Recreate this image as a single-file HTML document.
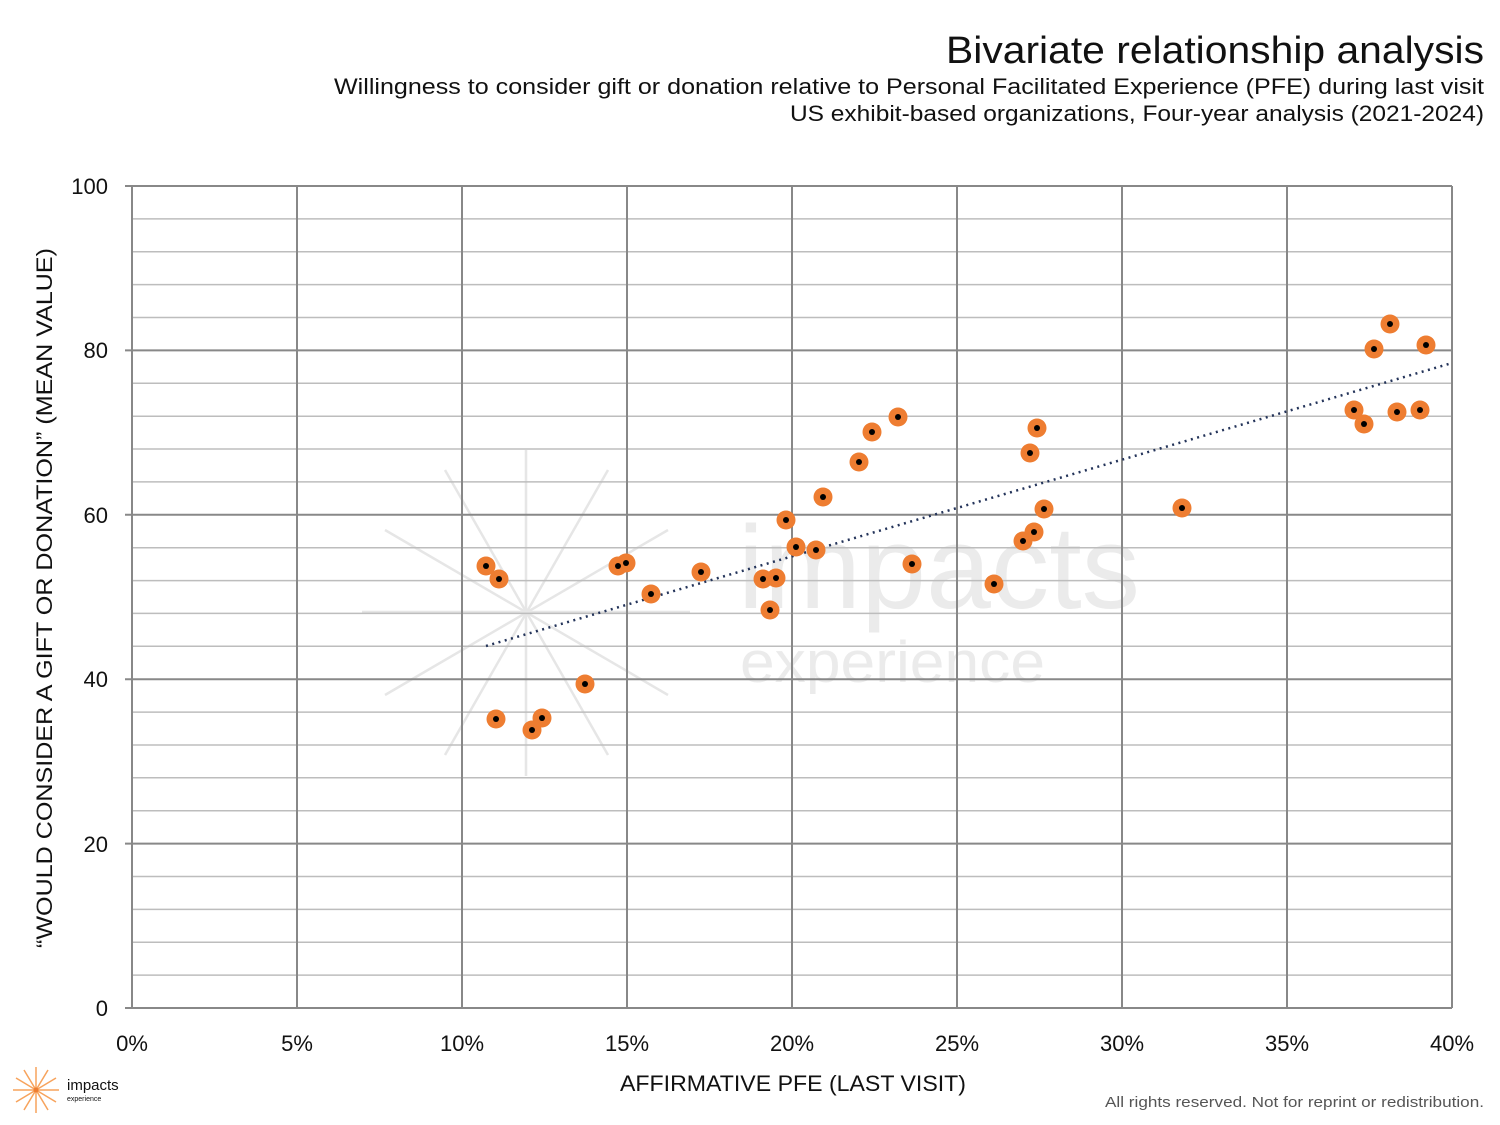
<!DOCTYPE html>
<html><head><meta charset="utf-8"><style>
body{margin:0;background:#fff;}
svg{display:block;font-family:"Liberation Sans",sans-serif;}
</style></head><body>
<svg width="1500" height="1125" viewBox="0 0 1500 1125">
<text x="946" y="63" textLength="538" lengthAdjust="spacingAndGlyphs" font-size="38" fill="#111">Bivariate relationship analysis</text>
<text x="334" y="94" textLength="1150" lengthAdjust="spacingAndGlyphs" font-size="22" fill="#111">Willingness to consider gift or donation relative to Personal Facilitated Experience (PFE) during last visit</text>
<text x="790" y="121" textLength="694" lengthAdjust="spacingAndGlyphs" font-size="22" fill="#111">US exhibit-based organizations, Four-year analysis (2021-2024)</text>

<!-- watermark -->
<g stroke="#e6e6e6" stroke-width="2.5">
<line x1="526" y1="450" x2="526" y2="776"/>
<line x1="362" y1="612" x2="690" y2="612"/>
<line x1="445" y1="470" x2="608" y2="755"/>
<line x1="608" y1="470" x2="445" y2="755"/>
<line x1="385" y1="530" x2="668" y2="695"/>
<line x1="668" y1="530" x2="385" y2="695"/>
</g>
<text x="738" y="608" textLength="402" lengthAdjust="spacingAndGlyphs" font-size="118" fill="#ebebeb">impacts</text>
<text x="740" y="682" textLength="305" lengthAdjust="spacingAndGlyphs" font-size="58" fill="#ebebeb">experience</text>

<!-- minor grid -->
<g stroke="#bdbdbd" stroke-width="1.5">
<line x1="132" x2="1452" y1="218.9" y2="218.9"/><line x1="132" x2="1452" y1="251.8" y2="251.8"/><line x1="132" x2="1452" y1="284.6" y2="284.6"/><line x1="132" x2="1452" y1="317.5" y2="317.5"/>
<line x1="132" x2="1452" y1="383.3" y2="383.3"/><line x1="132" x2="1452" y1="416.2" y2="416.2"/><line x1="132" x2="1452" y1="449" y2="449"/><line x1="132" x2="1452" y1="481.9" y2="481.9"/>
<line x1="132" x2="1452" y1="547.7" y2="547.7"/><line x1="132" x2="1452" y1="580.6" y2="580.6"/><line x1="132" x2="1452" y1="613.4" y2="613.4"/><line x1="132" x2="1452" y1="646.3" y2="646.3"/>
<line x1="132" x2="1452" y1="712.1" y2="712.1"/><line x1="132" x2="1452" y1="745" y2="745"/><line x1="132" x2="1452" y1="777.8" y2="777.8"/><line x1="132" x2="1452" y1="810.7" y2="810.7"/>
<line x1="132" x2="1452" y1="876.5" y2="876.5"/><line x1="132" x2="1452" y1="909.4" y2="909.4"/><line x1="132" x2="1452" y1="942.2" y2="942.2"/><line x1="132" x2="1452" y1="975.1" y2="975.1"/>
</g>
<!-- major grid -->
<g stroke="#888" stroke-width="2">
<line x1="125" x2="1452" y1="186" y2="186"/><line x1="125" x2="1452" y1="350.4" y2="350.4"/><line x1="125" x2="1452" y1="514.8" y2="514.8"/><line x1="125" x2="1452" y1="679.2" y2="679.2"/><line x1="125" x2="1452" y1="843.6" y2="843.6"/><line x1="125" x2="1452" y1="1008" y2="1008"/>
<line x1="132" x2="132" y1="186" y2="1008"/><line x1="297" x2="297" y1="186" y2="1008"/><line x1="462" x2="462" y1="186" y2="1008"/><line x1="627" x2="627" y1="186" y2="1008"/><line x1="792" x2="792" y1="186" y2="1008"/><line x1="957" x2="957" y1="186" y2="1008"/><line x1="1122" x2="1122" y1="186" y2="1008"/><line x1="1287" x2="1287" y1="186" y2="1008"/><line x1="1452" x2="1452" y1="186" y2="1008"/>
</g>
<g font-size="22" fill="#111" text-anchor="end">
<text x="108" y="194">100</text><text x="108" y="358">80</text><text x="108" y="523">60</text><text x="108" y="687">40</text><text x="108" y="852">20</text><text x="108" y="1016">0</text>
</g>
<g font-size="22" fill="#111" text-anchor="middle">
<text x="132" y="1051">0%</text><text x="297" y="1051">5%</text><text x="462" y="1051">10%</text><text x="627" y="1051">15%</text><text x="792" y="1051">20%</text><text x="957" y="1051">25%</text><text x="1122" y="1051">30%</text><text x="1287" y="1051">35%</text><text x="1452" y="1051">40%</text>
</g>
<text x="620" y="1091" textLength="346" lengthAdjust="spacingAndGlyphs" font-size="22" fill="#111">AFFIRMATIVE PFE (LAST VISIT)</text>
<text transform="translate(52,948) rotate(-90)" textLength="700" lengthAdjust="spacingAndGlyphs" font-size="22" fill="#111">“WOULD CONSIDER A GIFT OR DONATION” (MEAN VALUE)</text>

<line x1="486" y1="646" x2="1452" y2="363" stroke="#24345a" stroke-width="2.5" stroke-dasharray="2,4.5"/>

<g fill="#ee7d31">
<circle cx="486" cy="566" r="9.5"/><circle cx="499" cy="579" r="9.5"/><circle cx="496" cy="719" r="9.5"/><circle cx="532" cy="730" r="9.5"/><circle cx="542" cy="718" r="9.5"/><circle cx="585" cy="684" r="9.5"/><circle cx="618" cy="566" r="9.5"/><circle cx="626" cy="563" r="9.5"/><circle cx="651" cy="594" r="9.5"/><circle cx="701" cy="572" r="9.5"/><circle cx="763" cy="579" r="9.5"/><circle cx="776" cy="578" r="9.5"/><circle cx="770" cy="610" r="9.5"/><circle cx="786" cy="520" r="9.5"/><circle cx="796" cy="547" r="9.5"/><circle cx="816" cy="550" r="9.5"/><circle cx="823" cy="497" r="9.5"/><circle cx="859" cy="462" r="9.5"/><circle cx="872" cy="432" r="9.5"/><circle cx="898" cy="417" r="9.5"/><circle cx="912" cy="564" r="9.5"/><circle cx="994" cy="584" r="9.5"/><circle cx="1023" cy="541" r="9.5"/><circle cx="1030" cy="453" r="9.5"/><circle cx="1034" cy="532" r="9.5"/><circle cx="1037" cy="428" r="9.5"/><circle cx="1044" cy="509" r="9.5"/><circle cx="1182" cy="508" r="9.5"/><circle cx="1354" cy="410" r="9.5"/><circle cx="1364" cy="424" r="9.5"/><circle cx="1374" cy="349" r="9.5"/><circle cx="1390" cy="324" r="9.5"/><circle cx="1397" cy="412" r="9.5"/><circle cx="1420" cy="410" r="9.5"/><circle cx="1426" cy="345" r="9.5"/>
</g>
<g fill="#000">
<circle cx="486" cy="566" r="3"/><circle cx="499" cy="579" r="3"/><circle cx="496" cy="719" r="3"/><circle cx="532" cy="730" r="3"/><circle cx="542" cy="718" r="3"/><circle cx="585" cy="684" r="3"/><circle cx="618" cy="566" r="3"/><circle cx="626" cy="563" r="3"/><circle cx="651" cy="594" r="3"/><circle cx="701" cy="572" r="3"/><circle cx="763" cy="579" r="3"/><circle cx="776" cy="578" r="3"/><circle cx="770" cy="610" r="3"/><circle cx="786" cy="520" r="3"/><circle cx="796" cy="547" r="3"/><circle cx="816" cy="550" r="3"/><circle cx="823" cy="497" r="3"/><circle cx="859" cy="462" r="3"/><circle cx="872" cy="432" r="3"/><circle cx="898" cy="417" r="3"/><circle cx="912" cy="564" r="3"/><circle cx="994" cy="584" r="3"/><circle cx="1023" cy="541" r="3"/><circle cx="1030" cy="453" r="3"/><circle cx="1034" cy="532" r="3"/><circle cx="1037" cy="428" r="3"/><circle cx="1044" cy="509" r="3"/><circle cx="1182" cy="508" r="3"/><circle cx="1354" cy="410" r="3"/><circle cx="1364" cy="424" r="3"/><circle cx="1374" cy="349" r="3"/><circle cx="1390" cy="324" r="3"/><circle cx="1397" cy="412" r="3"/><circle cx="1420" cy="410" r="3"/><circle cx="1426" cy="345" r="3"/>
</g>

<!-- logo -->
<g stroke="#f7a35c" stroke-width="1.5">
<line x1="36" y1="1067" x2="36" y2="1113"/><line x1="13" y1="1090" x2="59" y2="1090"/>
<line x1="24" y1="1070" x2="48" y2="1110"/><line x1="48" y1="1070" x2="24" y2="1110"/>
<line x1="16" y1="1078" x2="56" y2="1102"/><line x1="56" y1="1078" x2="16" y2="1102"/>
</g>
<circle cx="36" cy="1090" r="2.5" fill="#ee7d31"/>
<text x="67" y="1090" font-size="15" fill="#111">impacts</text>
<text x="67" y="1101" font-size="7" fill="#111">experience</text>
<text x="1105" y="1107" textLength="379" lengthAdjust="spacingAndGlyphs" font-size="15" fill="#555">All rights reserved. Not for reprint or redistribution.</text>
</svg>
</body></html>
